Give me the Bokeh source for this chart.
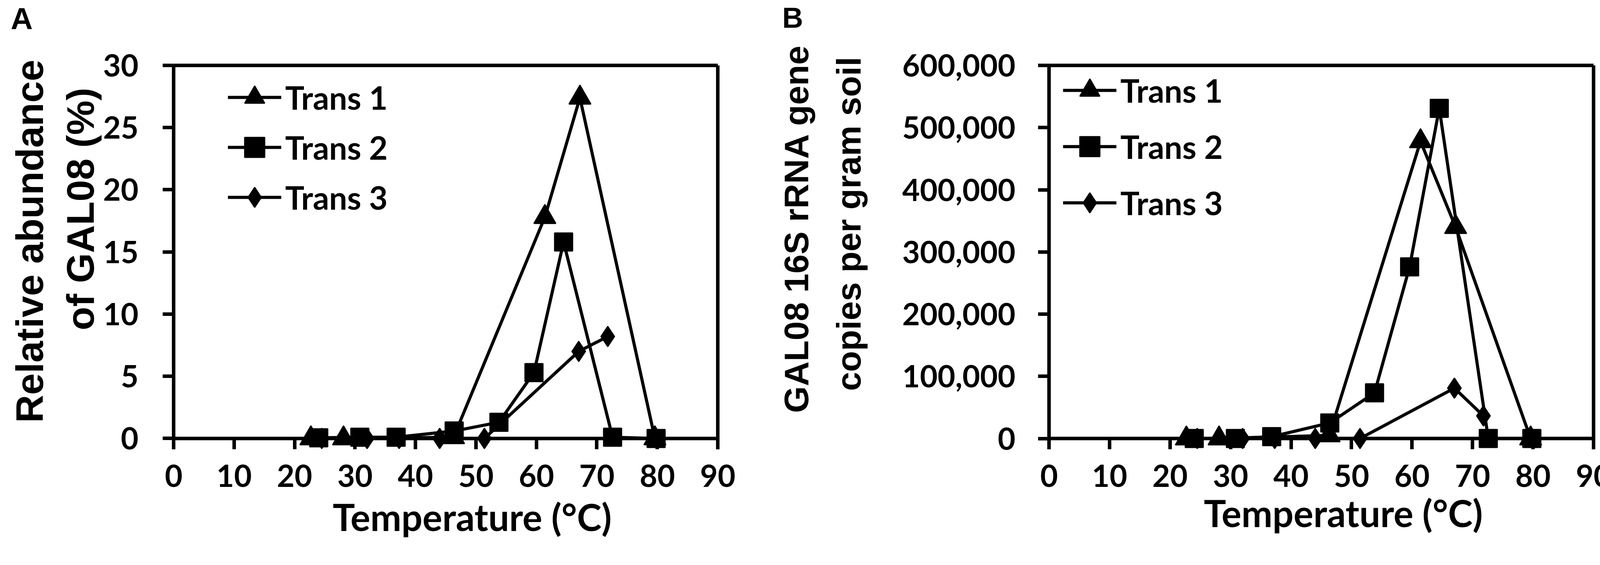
from bokeh.plotting import figure
from bokeh.models import (Range1d, SingleIntervalTicker, FixedTicker, NumeralTickFormatter,
                          Legend, LegendItem, LinearAxis, Span)
from bokeh.layouts import row
from bokeh.embed import file_html
from bokeh.resources import INLINE

# ---------------- data ----------------
series_names = ["Trans 1", "Trans 2", "Trans 3"]

trans1_temp = [22.7, 28.1, 46.3, 61.4, 67.2, 79.6]
trans2_temp = [24.0, 30.8, 36.8, 46.4, 53.8, 59.6, 64.5, 72.6, 79.8]
trans3_temp = [24.5, 32.0, 37.3, 44.0, 51.4, 67.0, 71.8]

# Panel A: relative abundance of GAL08 (%)
a_trans1 = [0.0, 0.0, 0.1, 17.8, 27.4, 0.0]
a_trans2 = [0.05, 0.1, 0.1, 0.6, 1.3, 5.3, 15.8, 0.1, 0.0]
a_trans3 = [0.0, 0.0, 0.0, 0.0, 0.0, 7.0, 8.2]

# Panel B: GAL08 16S rRNA gene copies per gram soil
b_trans1 = [0, 0, 5000, 478000, 340000, 0]
b_trans2 = [0, 0, 3000, 25000, 73500, 276000, 531000, 0, 0]
b_trans3 = [0, 0, 0, 0, 0, 81000, 36400]

x_title = "Temperature (°C)"
a_y_title = ["Relative abundance", "of GAL08 (%)"]
b_y_title = ["GAL08 16S rRNA gene", "copies per gram soil"]

x_ticks_interval = 10
FONT = "Lato"
TITLE_FONT = "Liberation Sans"
H = 1421           # a little below the window height, so no scrollbar appears
TICK = 28          # tick length in px
NB = "\u00a0"      # no-break space, used to nudge centred axis titles


def make_panel(width, border_left, border_right, border_top, border_bottom, data_h,
               y_end, y_interval, y_fmt, y_title, y_title_size, y_title_lh,
               y_label_standoff, y_title_standoff, x_label_standoff, x_title_standoff,
               x_title_nudge, ys, legend_loc, legend_spacing, letter, letter_offset,
               letter_standoff, letter_size, letter_lh):
    # the frame reaches one tick length below y = 0, so that markers on the
    # zero line are not cut and the x ticks hang below the zero line
    pad = y_end * TICK / data_h
    p = figure(width=width, height=H, output_backend="svg", toolbar_location=None,
               x_range=Range1d(0, 90), y_range=Range1d(-pad, y_end),
               min_border_left=border_left, min_border_right=border_right,
               min_border_top=border_top, min_border_bottom=border_bottom,
               margin=0)
    p.background_fill_color = "white"
    p.border_fill_color = "white"
    p.xgrid.visible = False
    p.ygrid.visible = False
    p.outline_line_color = None

    xa = p.below[0]
    ya = p.left[0]
    for ax in (xa, ya):
        ax.axis_line_width = 9
        ax.axis_line_color = "black"
        ax.major_tick_line_width = 9
        ax.major_tick_line_color = "black"
        ax.minor_tick_line_color = None
        ax.major_label_text_font = FONT
        ax.major_label_text_font_style = "bold"
        ax.major_label_text_font_size = "78px"
        ax.major_label_text_color = "black"
        ax.axis_label_text_font_style = "bold"
        ax.axis_label_text_color = "black"

    # x axis: the visible axis line sits at y = 0 (span), ticks rise from the frame edge to it
    xa.axis_line_color = None
    xa.major_tick_in = TICK
    xa.major_tick_out = 0
    xa.ticker = SingleIntervalTicker(interval=x_ticks_interval, num_minor_ticks=0)
    xa.axis_label = NB * x_title_nudge + x_title
    xa.axis_label_text_font = FONT
    xa.axis_label_text_font_size = "95px"
    xa.major_label_standoff = x_label_standoff
    xa.axis_label_standoff = x_title_standoff
    p.add_layout(Span(location=0, dimension="width", line_color="black", line_width=9))

    ya.major_tick_out = TICK
    ya.major_tick_in = 0
    ya.ticker = SingleIntervalTicker(interval=y_interval, num_minor_ticks=0)
    if y_fmt:
        ya.formatter = NumeralTickFormatter(format=y_fmt)
    ya.axis_label = y_title
    ya.axis_label_text_font = TITLE_FONT
    ya.axis_label_text_font_size = y_title_size
    ya.axis_label_text_line_height = y_title_lh
    ya.major_label_standoff = y_label_standoff
    ya.axis_label_standoff = y_title_standoff

    # box: plain lines on the right and top
    for side in ("right", "above"):
        bx = LinearAxis(ticker=FixedTicker(ticks=[]), axis_line_width=9, axis_line_color="black",
                        major_tick_out=0, major_tick_in=0, minor_tick_out=0, minor_tick_in=0,
                        major_label_text_font_size="0px", major_label_standoff=0,
                        axis_label_standoff=0)
        p.add_layout(bx, side)

    temps = [trans1_temp, trans2_temp, trans3_temp]
    markers = ["triangle", "square", "diamond"]
    sizes = [56, 46, 52]
    lines = []
    for t, y in zip(temps, ys):
        lines.append(p.line(t, y, line_color="black", line_width=8))
    marks = []
    for t, y, m, s in zip(temps, ys, markers, sizes):
        marks.append(p.scatter(t, y, marker=m, size=s, fill_color="black",
                               line_color="black", line_width=3))

    items = [LegendItem(label=n, renderers=[l, mk])
             for n, l, mk in zip(series_names, lines, marks)]
    legend = Legend(items=items, location=legend_loc, orientation="vertical",
                    glyph_width=137, glyph_height=128, spacing=legend_spacing,
                    label_standoff=10, padding=0, margin=0,
                    border_line_alpha=0, background_fill_alpha=0,
                    label_text_font=FONT, label_text_font_style="bold",
                    label_text_font_size="82px", label_text_color="black",
                    label_text_baseline="middle")
    p.add_layout(legend)

    # panel letter as the figure title, pulled left over the axis area;
    # an empty second line lifts it towards the top of the page
    p.title.text = letter + "\n"
    p.title.align = "left"
    p.title.offset = letter_offset
    p.title.standoff = letter_standoff
    p.title.text_font = TITLE_FONT
    p.title.text_font_style = "bold"
    p.title.text_font_size = letter_size
    p.title.text_line_height = letter_lh
    p.title.text_color = "black"
    return p


# Panel A: frame page x 452..1845, y 160..1158 (0 line at 1130); figure starts at page (8, 8)
pA = make_panel(width=1900, border_left=444, border_right=63, border_top=152, border_bottom=271,
                data_h=970,
                y_end=30, y_interval=5, y_fmt=None,
                y_title=NB * 3 + a_y_title[0] + "\n" + NB * 9 + a_y_title[1],
                y_title_size="99px", y_title_lh=1.175,
                y_label_standoff=62, y_title_standoff=0,
                x_label_standoff=39, x_title_standoff=16, x_title_nudge=6,
                ys=[a_trans1, a_trans2, a_trans3],
                legend_loc=(139, 581), legend_spacing=0,
                letter="A", letter_offset=-417, letter_standoff=2,
                letter_size="78px", letter_lh=0.85)

# Panel B: frame page x 2693..4087, y 172..1174 (0 line at 1146); figure starts at page 1908
pB = make_panel(width=2228, border_left=785, border_right=49, border_top=164, border_bottom=255,
                data_h=974,
                y_end=600000, y_interval=100000, y_fmt="0,0",
                y_title=NB * 6 + b_y_title[0] + "\n" + NB * 7 + b_y_title[1],
                y_title_size="88px", y_title_lh=1.35,
                y_label_standoff=58, y_title_standoff=85,
                x_label_standoff=39, x_title_standoff=6, x_title_nudge=5,
                ys=[b_trans1, b_trans2, b_trans3],
                legend_loc=(36, 567), legend_spacing=16,
                letter="B", letter_offset=-683, letter_standoff=2,
                letter_size="74px", letter_lh=0.96)

layout = row(pA, pB, spacing=0, margin=0)
open("out.html", "w").write(file_html(layout, INLINE))
